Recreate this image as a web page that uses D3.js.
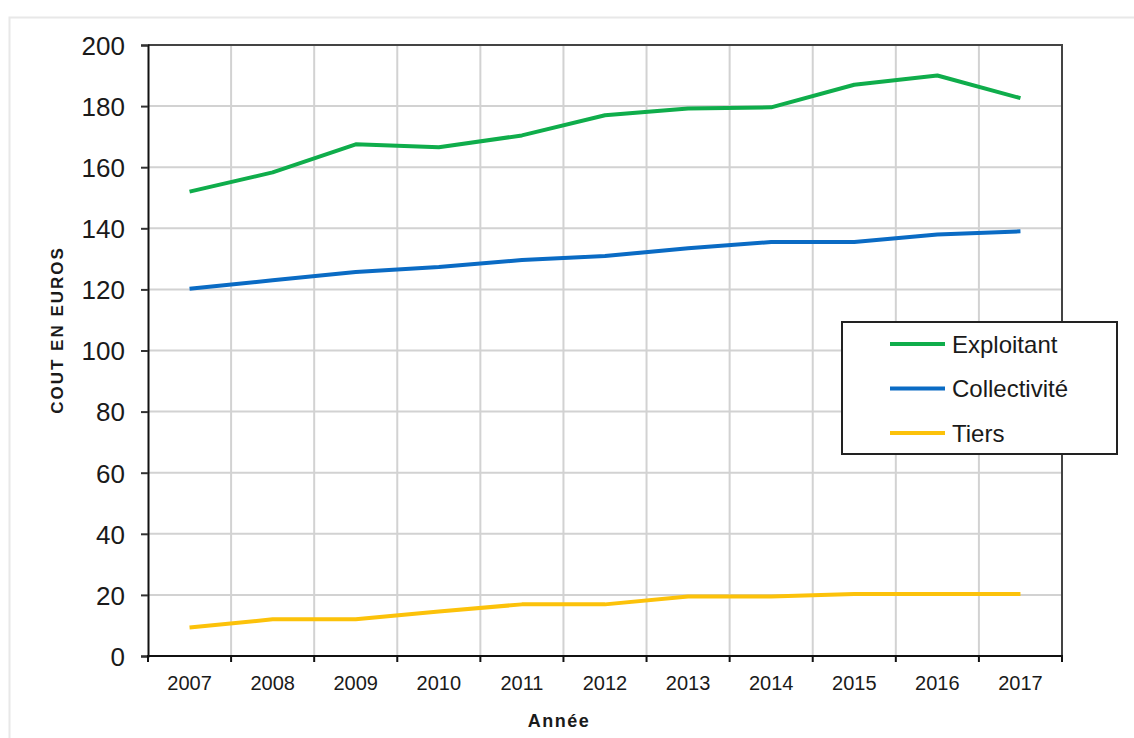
<!DOCTYPE html>
<html>
<head>
<meta charset="utf-8">
<script src="https://cdn.jsdelivr.net/npm/d3@7"></script>
<style>
  html, body { margin: 0; padding: 0; background: #fff; }
  svg { display: block; }
</style>
</head>
<body>
<svg id="chart" width="1134" height="738"></svg>
<script>
const years = ["2007","2008","2009","2010","2011","2012","2013","2014","2015","2016","2017"];
const exploitant = [152, 158.3, 167.5, 166.5, 170.4, 177, 179.2, 179.6, 187, 190, 182.6];
const collectivite = [120.2, 123, 125.7, 127.3, 129.6, 130.9, 133.5, 135.5, 135.5, 138, 139];
const tiers = [9.3, 12, 12, 14.6, 16.9, 16.9, 19.5, 19.5, 20.3, 20.3, 20.3];
const seriesNames = ["Exploitant", "Collectivité", "Tiers"];
const seriesColors = ["#0fad4b", "#0a6bc4", "#fcc20a"];
const yTicks = [0, 20, 40, 60, 80, 100, 120, 140, 160, 180, 200];

const FONT = "'Liberation Sans', Arial, sans-serif";
const svg = d3.select("#chart");
const L = 148, R = 1062, T = 45, B = 656;

// outer frame
svg.append("rect").attr("x", 9.5).attr("y", 17.5).attr("width", 1200).attr("height", 800)
  .attr("fill", "none").attr("stroke", "#e8e8e8").attr("stroke-width", 2);

const x = d3.scaleBand().domain(years).range([L, R]);
const y = d3.scaleLinear().domain([0, 200]).range([B, T]);

// gridlines
const g = svg.append("g");
g.selectAll("line.hg").data(yTicks.slice(1)).join("line")
  .attr("x1", L).attr("x2", R).attr("y1", d => y(d)).attr("y2", d => y(d))
  .attr("stroke", "#d2d2d2").attr("stroke-width", 2);
g.selectAll("line.vg").data(years.slice(1)).join("line")
  .attr("x1", d => x(d)).attr("x2", d => x(d)).attr("y1", T).attr("y2", B)
  .attr("stroke", "#d2d2d2").attr("stroke-width", 2);

// border top/right
svg.append("path").attr("d", `M${L},${T}H${R}V${B}`).attr("fill", "none")
  .attr("stroke", "#444").attr("stroke-width", 2);

// y axis
const yAxis = svg.append("g").attr("transform", `translate(${L},0)`)
  .call(d3.axisLeft(y).tickValues(yTicks).tickSize(7).tickPadding(16));
yAxis.select(".domain").attr("stroke", "#111").attr("stroke-width", 2);
yAxis.selectAll(".tick line").attr("stroke", "#333").attr("stroke-width", 2);
yAxis.selectAll("text").attr("font-family", FONT)
  .attr("font-size", 26).attr("fill", "#1a1a1a").attr("dy", "0.36em");

// x axis
const xAxis = svg.append("g").attr("transform", `translate(0,${B})`)
  .call(d3.axisBottom(x).tickSize(0));
xAxis.select(".domain").remove();
xAxis.selectAll("text").attr("font-family", FONT)
  .attr("font-size", 20).attr("fill", "#1a1a1a").attr("y", 34).attr("dy", 0);
svg.append("line").attr("x1", L - 1).attr("x2", R + 1).attr("y1", B).attr("y2", B)
  .attr("stroke", "#111").attr("stroke-width", 2);
svg.selectAll("line.xt").data(years.concat(["end"])).join("line")
  .attr("x1", d => d === "end" ? R : x(d)).attr("x2", d => d === "end" ? R : x(d))
  .attr("y1", B).attr("y2", B + 6).attr("stroke", "#111").attr("stroke-width", 2);

// lines
const data = [exploitant, collectivite, tiers];
const line = d3.line().x((d, i) => x(years[i]) + x.bandwidth() / 2).y(d => y(d));
svg.selectAll("path.series").data(data).join("path")
  .attr("d", d => line(d)).attr("fill", "none")
  .attr("stroke", (d, i) => seriesColors[i]).attr("stroke-width", 4)
  .attr("stroke-linejoin", "round");

// axis titles
svg.append("text").attr("transform", "translate(63,330) rotate(-90)")
  .attr("text-anchor", "middle").attr("font-family", FONT)
  .attr("font-size", 17).attr("font-weight", "bold").attr("letter-spacing", "2")
  .attr("fill", "#1a1a1a").text("COUT  EN EUROS");
svg.append("text").attr("x", 559).attr("y", 727)
  .attr("text-anchor", "middle").attr("font-family", FONT)
  .attr("font-size", 18).attr("font-weight", "bold").attr("letter-spacing", "1.5")
  .attr("fill", "#1a1a1a").text("Année");

// legend
const lg = svg.append("g");
lg.append("rect").attr("x", 842).attr("y", 322).attr("width", 275).attr("height", 132)
  .attr("fill", "#fff").attr("stroke", "#222").attr("stroke-width", 2);
const items = lg.selectAll("g.item").data(seriesNames).join("g")
  .attr("transform", (d, i) => `translate(0,${344 + i * 44.5})`);
items.append("line").attr("x1", 890).attr("x2", 945).attr("y1", 0).attr("y2", 0)
  .attr("stroke", (d, i) => seriesColors[i]).attr("stroke-width", 4);
items.append("text").attr("x", 952).attr("y", 0).attr("dy", "0.36em")
  .attr("font-family", FONT).attr("font-size", 24)
  .attr("fill", "#1a1a1a").text(d => d);
</script>
</body>
</html>
